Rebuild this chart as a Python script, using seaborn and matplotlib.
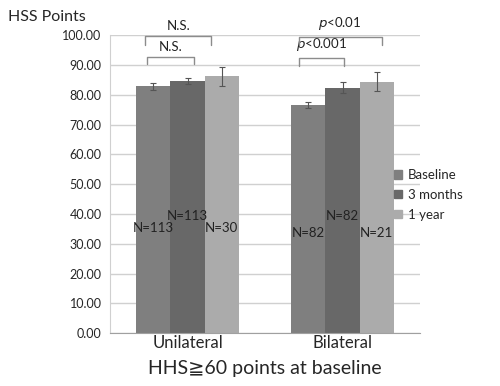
import numpy as np
import pandas as pd
import matplotlib
matplotlib.use("Agg")
import matplotlib.pyplot as plt
import seaborn as sns

categories = ["Unilateral", "Bilateral"]
periods = ["Baseline", "3 months", "1 year"]
means = {
    "Baseline": [82.8, 76.7],
    "3 months": [84.5, 82.4],
    "1 year": [86.2, 84.3],
}
errors = {
    "Baseline": [1.2, 1.0],
    "3 months": [1.0, 1.8],
    "1 year": [3.2, 3.2],
}
n_labels = {
    "Baseline": ["N=113", "N=82"],
    "3 months": ["N=113", "N=82"],
    "1 year": ["N=30", "N=21"],
}
n_label_y = {
    "Baseline": [35.2, 33.6],
    "3 months": [39.3, 39.3],
    "1 year": [35.2, 33.6],
}
colors = ["#7f7f7f", "#686868", "#ababab"]

rows = []
for p in periods:
    for i, c in enumerate(categories):
        rows.append({"group": c, "period": p, "value": means[p][i]})
df = pd.DataFrame(rows)

sns.set_style("white")
plt.rcParams["font.family"] = ["Lato", "DejaVu Sans"]

fig = plt.figure(figsize=(5, 3.86), dpi=100)
ax = fig.add_axes([0.22, 0.137, 0.62, 0.772])

sns.barplot(data=df, x="group", y="value", hue="period", order=categories,
            hue_order=periods, palette=colors, width=0.665, linewidth=0,
            errorbar=None, legend=False, ax=ax)

centers = {}
for p, cont in zip(periods, ax.containers):
    xs = [b.get_x() + b.get_width() / 2 for b in cont]
    centers[p] = xs
    ax.errorbar(xs, means[p], yerr=errors[p], fmt="none", ecolor="#555555",
                elinewidth=0.8, capsize=2, capthick=0.8, zorder=5)
    for x, lab, yy in zip(xs, n_labels[p], n_label_y[p]):
        ax.text(x, yy, lab, ha="center", va="center", fontsize=9.5, color="#222222", zorder=6)

def bracket(x1, x2, y, h, text):
    ax.plot([x1, x1, x2, x2], [y - h, y, y, y - h], color="#8c8c8c", lw=1,
            clip_on=False, zorder=6)
    ax.text((x1 + x2) / 2, y + 1.5, text, ha="center", va="bottom", fontsize=9.5,
            color="#222222", clip_on=False)

b0 = centers["Baseline"]
b1 = centers["3 months"]
b2 = centers["1 year"]
bracket(b0[0] - 0.04, b1[0] + 0.04, 92.6, 2.4, "N.S.")
bracket(b0[0] - 0.05, b2[0] - 0.07, 99.6, 2.8, "N.S.")
bracket(b0[1] - 0.06, b1[1] + 0.01, 92.4, 2.6, r"$p$<0.001")
bracket(b0[1] - 0.06, b2[1] + 0.03, 99.4, 2.8, r"$p$<0.01")

ax.set_ylim(0, 100)
ax.set_xlim(-0.5, 1.5)
ax.set_yticks(np.arange(0, 101, 10))
ax.set_yticklabels([f"{v:.2f}" for v in np.arange(0, 101, 10)], fontsize=9)
ax.yaxis.grid(True, color="#d0d0d0", lw=1)
ax.set_axisbelow(True)
ax.tick_params(axis="x", labelsize=12, length=0, pad=1)
ax.tick_params(axis="y", length=0, pad=6)
for s in ["top", "right"]:
    ax.spines[s].set_visible(False)
ax.spines["left"].set_color("#d0d0d0")
ax.spines["bottom"].set_color("#a0a0a0")
ax.set_ylabel("")
ax.set_xlabel("HHS\u226760 points at baseline", fontsize=14, labelpad=7)

fig.text(0.016, 0.955, "HSS Points", fontsize=11.5, ha="left", va="center")

handles = [plt.Rectangle((0, 0), 1, 1, color=c) for c in colors]
fig.legend(handles, periods, loc="center left", bbox_to_anchor=(0.765, 0.495),
           frameon=False, fontsize=9.5, handlelength=0.6, handleheight=0.6,
           handletextpad=0.4, labelspacing=0.6)

fig.savefig("out.png", dpi=100)
